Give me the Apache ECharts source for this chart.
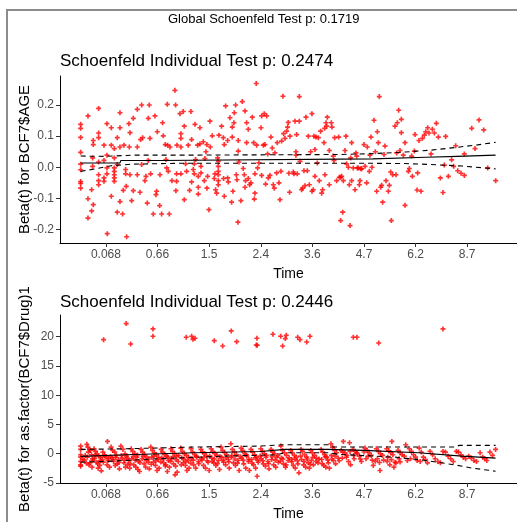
<!DOCTYPE html>
<html>
<head>
<meta charset="utf-8">
<script src="https://cdn.jsdelivr.net/npm/echarts@6/dist/echarts.min.js"></script>
<style>
html, body { margin: 0; padding: 0; background: #fff; }
#chart { width: 517px; height: 522px; }
</style>
</head>
<body>
<div id="chart"></div>
<script>
// x values are positions on the transformed time scale: tick k sits at k
var timeTicks = [1, 2, 3, 4, 5, 6, 7, 8];
var timeLabels = ['0.068', '0.66', '1.5', '2.4', '3.6', '4.7', '6.2', '8.7'];
var ageTicks = [-0.2, -0.1, 0, 0.1, 0.2];
var drugTicks = [-5, 0, 5, 10, 15, 20];

// scaled Schoenfeld residuals, AGE
var agePoints = [
  [0.51,0.138],[0.51,0.125],[0.51,0.096],[0.51,0.048],[0.51,0.010],[0.51,-0.008],[0.51,-0.046],[0.51,-0.052],[0.51,-0.067],
  [0.652,0.165],[0.652,-0.101],[0.652,-0.163],[0.723,-0.072],[0.723,-0.140],
  [0.755,0.086],[0.755,0.073],[0.755,-0.120],[0.742,0.030],[0.742,0.003],
  [0.858,0.189],[0.858,0.110],[0.858,0.095],[0.858,0.017],[0.858,-0.024],[0.858,-0.043],[0.858,-0.056],
  [0.962,0.071],[0.962,0.022],[0.962,-0.034],[0.962,-0.045],
  [1.020,0.140],[1.020,0.039],[1.020,-0.002],[1.020,-0.021],[1.026,-0.213],
  [1.104,0.127],[1.104,0.071],[1.104,-0.093],
  [1.162,0.060],[1.162,0.030],[1.162,-0.002],[1.162,-0.013],[1.162,-0.024],[1.162,-0.034],[1.162,-0.045],
  [1.220,0.095],[1.220,0.009],[1.220,-0.144],
  [1.272,0.127],[1.272,0.175],[1.272,0.065],[1.272,-0.110],
  [1.323,-0.150],[1.336,-0.074],[1.349,0.071],[1.382,-0.021],[1.382,-0.007],[1.394,-0.061],[1.401,-0.223],
  [1.446,0.140],[1.453,0.065],[1.466,-0.024],[1.466,0.111],[1.498,-0.107],[1.530,0.157],[1.530,-0.075],
  [1.608,0.186],[1.608,0.065],[1.608,-0.024],[1.659,-0.080],[1.672,0.089],[1.692,0.200],[1.692,0.009],[1.711,0.095],
  [1.756,-0.043],[1.775,-0.029],[1.801,-0.115],[1.821,0.157],[1.821,0.022],[1.840,0.200],[1.853,0.093],[1.866,-0.021],
  [1.918,-0.150],[1.950,0.165],[1.982,-0.077],[1.969,-0.088],[1.995,0.114],[2.040,-0.123],[2.047,-0.024],[2.079,-0.150],
  [2.098,0.143],[2.111,0.101],[2.150,0.073],[2.163,0.025],[2.176,-0.002],[2.189,0.202],[2.195,0.071],[2.208,-0.013],
  [2.228,-0.150],[2.241,0.065],[2.279,-0.043],
  [2.337,0.247],[2.350,0.200],[2.376,0.071],[2.369,-0.021],[2.369,-0.045],[2.356,-0.075],
  [2.434,0.172],[2.453,0.108],[2.453,0.093],[2.453,0.065],[2.453,-0.021],
  [2.498,0.179],[2.518,0.132],[2.518,-0.104],[2.544,0.011],[2.563,-0.013],[2.595,0.071],[2.621,-0.074],
  [2.647,0.179],[2.660,0.089],[2.660,-0.047],[2.692,-0.007],[2.712,0.011],[2.712,-0.021],[2.725,0.138],[2.737,0.025],
  [2.776,0.071],[2.789,-0.029],[2.789,-0.064],[2.789,-0.086],[2.821,0.075],[2.821,0.127],[2.841,0.003],[2.841,-0.018],
  [2.886,0.082],[2.906,-0.043],[2.918,0.028],[2.938,0.050],[2.957,0.073],[2.957,-0.067],[2.970,-0.029],[2.996,-0.136],
  [3.015,0.148],[3.022,0.065],[3.060,0.101],[3.099,-0.036],[3.112,-0.021],[3.125,-0.072],[3.145,-0.083],[3.164,0.030],
  [3.177,0.019],[3.177,0.003],[3.177,-0.013],[3.177,-0.024],[3.177,-0.043],[3.177,-0.056],[3.190,0.103],
  [3.241,0.132],[3.274,0.095],[3.293,0.073],[3.293,-0.093],[3.280,-0.036],[3.319,0.197],[3.358,0.086],[3.358,-0.034],
  [3.371,-0.047],[3.403,0.159],[3.448,0.129],[3.448,0.097],[3.461,-0.077],[3.480,0.143],[3.487,0.175],[3.513,0.200],
  [3.526,-0.024],[3.539,-0.040],[3.564,0.052],[3.564,0.086],[3.577,0.017],[3.435,-0.112],[3.558,-0.176],[3.616,-0.107],
  [3.642,0.211],[3.661,-0.004],[3.681,-0.024],[3.694,0.181],[3.694,-0.064],[3.706,-0.043],[3.726,0.079],[3.726,0.143],
  [3.758,0.122],[3.758,-0.036],[3.784,-0.056],[3.810,-0.050],[3.836,0.161],[3.862,0.079],[3.875,-0.102],[3.887,-0.083],
  [3.887,-0.021],[3.913,0.269],[3.920,0.071],[3.939,-0.002],[3.965,0.014],[4.004,0.127],[4.017,0.165],[4.017,-0.026],
  [4.049,0.071],[4.068,0.172],[4.081,0.073],[4.094,-0.054],[4.114,0.165],[4.133,0.043],[4.146,-0.034],[4.178,-0.026],
  [4.197,0.097],[4.223,0.062],[4.243,-0.056],[4.262,-0.067],[4.275,0.046],[4.307,-0.018],[4.320,0.079],[4.353,-0.050],
  [4.372,-0.104],[4.391,-0.013],[4.404,0.084],[4.430,0.228],[4.443,0.108],[4.469,0.093],[4.501,0.116],[4.520,0.129],
  [4.533,0.144],[4.546,-0.019],[4.559,-0.080],[4.566,0.100],
  [4.663,0.148],[4.695,0.105],[4.747,0.148],[4.747,0.227],[4.631,-0.015],[4.644,-0.021],[4.708,-0.021],[4.682,0.050],
  [4.682,0.039],[4.760,0.019],[4.792,-0.072],[4.811,-0.067],[4.837,-0.011],[4.857,-0.059],[4.876,0.161],[4.902,-0.011],
  [4.921,0.100],[4.941,-0.056],[4.967,0.050],[4.992,0.172],[4.992,-0.077],[5.018,-0.072],[5.031,0.100],[5.050,0.057],
  [5.050,-0.029],[5.070,0.097],[5.096,0.014],[5.115,0.095],[5.134,-0.043],[5.160,0.116],[5.180,-0.083],[5.199,-0.072],
  [5.225,0.079],[5.238,0.125],[5.244,-0.024],[5.264,0.143],[5.277,0.132],[5.290,0.161],[5.328,0.054],[5.328,-0.056],
  [5.367,0.143],[5.380,0.129],[5.406,0.036],[5.419,0.022],[5.432,0.095],[5.470,-0.043],[5.509,0.097],[5.522,-0.032],
  [5.548,-0.032],[5.548,-0.171],[5.567,-0.029],[5.587,-0.144],[5.600,-0.043],[5.632,0.054],[5.651,0.100],[5.664,0.011],
  [5.697,0.000],[5.716,-0.056],[5.729,-0.187],[5.742,0.030],[5.761,0.079],[5.761,-0.043],[5.793,-0.002],[5.826,-0.072],
  [5.845,0.046],[5.858,0.036],[5.871,-0.002],[5.890,-0.002],[5.910,-0.056],[5.923,-0.043],[5.936,-0.005],[5.955,-0.005],
  [6.000,0.073],[6.020,0.003],[6.052,-0.050],[6.065,0.065],[6.104,-0.013],[6.116,0.039],[6.136,0.097],[6.155,0.000],
  [6.194,0.151],[6.220,0.050],[6.246,-0.077],[6.259,0.114],[6.278,0.079],[6.297,0.227],[6.323,-0.064],[6.342,-0.058],
  [6.362,-0.112],[6.388,0.041],[6.407,0.068],[6.427,-0.043],[6.472,-0.077],[6.491,-0.058],[6.517,-0.015],[6.530,-0.171],
  [6.556,-0.024],[6.601,0.132],[6.620,-0.024],[6.633,0.046],[6.646,0.143],[6.672,0.183],[6.698,0.054],[6.724,0.154],
  [6.724,0.111],[6.762,0.039],
  [6.795,0.079],[6.795,-0.122],[6.860,-0.013],[6.879,-0.004],[6.937,-0.029],[6.924,0.036],[6.976,0.052],[6.989,0.105],
  [7.028,-0.073],[7.040,-0.018],[7.066,0.086],[7.105,-0.077],[7.131,0.093],[7.170,0.103],[7.196,0.114],[7.234,0.127],
  [7.260,0.110],[7.299,0.043],[7.325,0.122],[7.364,0.110],[7.402,0.141],[7.441,0.097],[7.480,-0.034],[7.531,-0.081],
  [7.557,0.007],[7.583,0.099],[7.635,-0.029],[7.699,0.024],[7.738,0.003],[7.777,0.069],[7.816,-0.011],[7.880,-0.019],
  [7.945,0.043],[7.945,-0.026],[8.087,0.125],[8.152,0.060],[8.229,0.152],[8.320,0.120],[8.397,-0.002],[8.552,-0.043]
];
var ageFit = [[0.51,0.014],[1.27,0.014],[1.29,0.022],[2.05,0.022],[2.07,0.027],[6.17,0.027],[6.19,0.031],[7.2,0.032],[7.22,0.035],[7.8,0.035],[7.82,0.039],[8.55,0.039]];
var ageUpper = [[0.51,0.036],[1.0,0.035],[1.5,0.039],[2.5,0.039],[4.0,0.040],[5.5,0.041],[6.2,0.044],[6.8,0.049],[7.3,0.055],[7.8,0.064],[8.2,0.072],[8.55,0.080]];
var ageLower = [[0.51,-0.013],[0.8,-0.005],[1.1,0.005],[1.5,0.010],[2.5,0.013],[6.0,0.013],[6.8,0.012],[7.3,0.009],[7.9,0.004],[8.55,-0.005]];

// scaled Schoenfeld residuals, Drug
var drugPoints = [
  [0.955,19.49],[1.393,22.23],[1.479,18.75],[1.911,21.32],[1.911,20.07],[2.556,19.9],[2.661,20.07],[2.686,19.55],
  [2.725,19.73],[3.099,19.31],[3.262,18.4],[3.428,20.98],[3.533,19.15],[3.926,19.73],[3.913,18.58],[3.932,18.53],
  [4.236,20.41],[4.386,20.07],[4.424,18.4],[4.475,19.67],[4.494,20.24],[4.715,19.9],[4.760,19.49],[4.890,19.09],
  [4.953,20.07],[5.793,19.9],[5.864,19.9],[6.285,18.92],[7.531,21.32],
  [0.51,1.31],[0.51,0.74],[0.51,-0.18],[0.51,-0.58],[0.51,-1.32],[0.51,-1.89],[0.51,-2.12],
  [0.63,1.6],[0.65,1.14],[0.68,0.74],[0.7,0.57],[0.66,0.28],[0.72,-0.18],[0.64,-0.58],[0.74,-0.86],[0.69,-1.55],[0.67,-1.89],[0.73,-2.29],
  [0.77,0.85],[0.8,0.39],[0.83,-0.01],[0.86,-0.41],[0.78,-0.75],[0.89,-1.15],[0.82,-1.44],[0.88,-2.0],[0.85,-2.46],[0.91,-2.92],
  [1.03,2.11],[0.94,0.28],[0.97,-0.18],[1.0,-0.58],[1.05,-0.86],[0.95,-1.44],[1.02,-1.89],[1.07,-2.29],
  [1.1,1.14],[1.13,0.57],[1.17,0.28],[1.2,-0.29],[1.12,-0.69],[1.24,-0.98],[1.15,-1.32],[1.22,-1.72],[1.18,-2.0],[1.26,-2.58],
  [1.29,1.31],[1.33,0.74],[1.37,-0.01],[1.4,-0.41],[1.31,-0.75],[1.44,-1.15],[1.35,-1.55],[1.42,-1.89],[1.38,-2.29],[1.46,-2.46],
  [1.49,0.85],[1.52,0.39],[1.56,-0.01],[1.6,-0.58],[1.5,-0.86],[1.63,-1.32],[1.54,-1.89],[1.58,-2.29],[1.62,-2.69],[1.65,-3.04],
  [1.68,0.74],[1.71,0.28],[1.75,-0.18],[1.79,-0.58],[1.7,-0.86],[1.82,-1.44],[1.74,-1.72],[1.77,-2.29],[1.84,-2.58],
  [1.87,1.14],[1.9,0.57],[1.94,0.17],[1.98,-0.18],[1.89,-0.58],[2.01,-0.98],[1.92,-1.44],[1.96,-2.0],[2.03,-2.46],[1.99,-2.87],
  [2.07,0.74],[2.1,0.28],[2.14,-0.18],[2.18,-0.41],[2.08,-0.75],[2.21,-1.15],[2.12,-1.55],[2.16,-1.89],[2.23,-2.29],[2.19,-3.04],
  [2.26,0.85],[2.29,0.39],[2.33,-0.01],[2.37,-0.41],[2.27,-0.86],[2.4,-1.32],[2.31,-1.72],[2.35,-2.12],[2.38,-3.15],[2.34,-3.61],
  [2.45,0.97],[2.48,0.39],[2.52,-0.01],[2.56,-0.29],[2.47,-0.75],[2.59,-1.15],[2.5,-1.55],[2.54,-2.0],[2.61,-2.46],[2.57,-2.87],
  [2.65,0.85],[2.68,0.28],[2.72,-0.18],[2.76,-0.58],[2.66,-0.86],[2.79,-1.32],[2.7,-1.89],[2.74,-2.46],
  [2.84,0.74],[2.87,0.28],[2.91,-0.01],[2.95,-0.41],[2.85,-0.86],[2.98,-1.44],[2.89,-2.0],[2.93,-2.46],[3.0,-2.87],
  [3.04,0.85],[3.07,0.39],[3.11,-0.01],[3.15,-0.29],[3.05,-0.75],[3.18,-1.15],[3.09,-1.55],[3.13,-2.0],[3.2,-2.69],
  [3.23,1.14],[3.26,0.57],[3.3,0.17],[3.34,-0.18],[3.24,-0.58],[3.37,-0.98],[3.28,-1.44],[3.32,-1.89],[3.39,-2.46],
  [3.42,1.71],[3.45,0.74],[3.49,0.28],[3.53,-0.18],[3.43,-0.58],[3.56,-1.15],[3.47,-1.55],[3.51,-2.0],[3.58,-2.87],
  [3.62,0.97],[3.65,0.57],[3.69,-0.01],[3.73,-0.41],[3.63,-0.75],[3.76,-1.32],[3.67,-1.72],[3.71,-2.46],[3.78,-2.87],
  [3.81,0.74],[3.84,0.28],[3.88,-0.18],[3.92,-0.58],[3.82,-0.98],[3.95,-1.44],[3.86,-1.89],[3.9,-2.46],[3.93,-3.84],
  [4.0,0.85],[4.03,0.39],[4.07,-0.01],[4.11,-0.29],[4.01,-0.86],[4.14,-1.32],[4.05,-1.72],[4.09,-2.12],[4.16,-2.58],
  [4.2,0.74],[4.23,0.28],[4.27,-0.01],[4.31,-0.58],[4.21,-0.98],[4.34,-1.44],[4.25,-1.89],[4.29,-2.29],
  [4.39,1.31],[4.42,0.57],[4.46,0.17],[4.5,-0.29],[4.4,-0.75],[4.53,-1.15],[4.44,-1.72],[4.48,-2.29],
  [4.58,0.57],[4.61,0.17],[4.65,-0.29],[4.69,-0.58],[4.6,-0.98],[4.72,-1.72],[4.63,-2.0],[4.67,-2.46],[4.74,-3.27],
  [4.78,0.74],[4.81,0.39],[4.85,-0.18],[4.89,-0.58],[4.79,-0.98],[4.92,-1.55],[4.83,-1.89],[4.87,-2.29],[4.94,-2.46],
  [4.97,0.57],[5.0,0.17],[5.04,-0.29],[5.08,-0.75],[4.98,-1.15],[5.11,-1.55],[5.02,-1.89],
  [5.17,0.74],[5.2,0.28],[5.24,-0.18],[5.28,-0.58],[5.18,-0.98],[5.31,-1.55],[5.22,-2.0],[5.26,-2.29],[5.33,-2.46],
  [5.36,1.71],[5.39,1.14],[5.43,0.57],[5.47,0.17],[5.37,-0.29],[5.5,-0.75],[5.41,-1.15],[5.45,-1.72],
  [5.6,2.11],[5.72,1.88],[5.56,0.57],[5.63,0.17],[5.67,-0.29],[5.58,-0.75],[5.7,-1.32],[5.74,-1.89],
  [5.79,0.74],[5.83,0.39],[5.87,-0.01],[5.91,-0.41],[5.81,-0.86],[5.95,-1.32],
  [6.02,0.97],[6.06,0.57],[6.1,0.17],[6.14,-0.29],[6.04,-0.86],[6.18,-2.0],
  [6.24,0.85],[6.28,0.39],[6.32,-0.01],[6.36,-0.29],[6.26,-0.86],[6.31,-2.87],
  [6.54,2.11],[6.44,0.85],[6.48,0.51],[6.52,0.17],[6.56,-0.18],[6.46,-0.58],[6.6,-1.44],[6.5,-1.89],[6.58,-2.29],
  [6.81,1.54],[6.66,0.57],[6.7,0.17],[6.74,-0.18],[6.78,-0.41],[6.68,-0.86],[6.84,-1.15],
  [6.88,0.85],[6.92,0.39],[6.96,-0.18],[7.0,-0.58],[6.9,-0.86],[7.03,-1.15],
  [7.07,0.97],[7.11,0.28],[7.15,-0.58],[7.19,-0.98],[7.09,-1.32],[7.23,-1.55],
  [7.28,0.39],[7.33,-0.18],[7.38,-0.86],[7.43,-1.32],[7.48,-1.55],
  [7.53,0.39],[7.58,0.28],[7.63,-0.41],[7.68,-0.86],[7.73,-1.32],
  [7.79,0.39],[7.83,0.28],[7.88,-0.18],[7.92,-0.58],[7.97,-0.86],
  [8.03,-0.41],[8.08,-0.75],[8.13,-1.15],[8.18,-1.32],
  [8.25,0.17],[8.3,-0.58],[8.34,-0.86],[8.38,-1.15],
  [8.44,0.28],[8.49,-0.29],[8.55,0.74],
  [0.55,-0.9],[0.58,-1.1],[0.6,-0.3],[0.62,-1.6],[0.75,-1.1],[0.79,-0.2],[0.84,-1.7],[0.9,-0.6],[0.93,-1.0],[0.98,-0.4],
  [1.04,-1.2],[1.09,-0.5],[1.14,-1.0],[1.19,-0.6],[1.25,-1.5],[1.3,-0.3],[1.36,-1.1],[1.41,-0.7],[1.47,-1.7],[1.53,-0.5],
  [1.57,-1.1],[1.61,-0.2],[1.66,-1.5],[1.72,-0.4],[1.78,-1.1],[1.83,-0.9],[1.88,-1.8],[1.93,-0.4],[1.97,-1.2],[2.02,-0.6],
  [2.06,-1.4],[2.11,-0.9],[2.15,-2.1],[2.2,-0.6],[2.25,-1.3],[2.3,-0.5],[2.36,-1.0],[2.41,-0.3],[2.46,-1.9],[2.51,-0.9],
  [2.55,-1.3],[2.6,-0.6],[2.64,-1.6],[2.69,-1.1],[2.75,-0.4],[2.8,-1.7],[2.86,-1.1],[2.9,-0.6],[2.96,-1.2],[3.01,-0.4],
  [3.06,-1.3],[3.1,-0.9],[3.16,-1.7],[3.21,-0.5],[3.27,-1.1],[3.33,-0.7],[3.38,-1.4],[3.44,-0.3],[3.5,-0.9],[3.55,-1.6],
  [3.6,-0.5],[3.66,-1.1],[3.72,-0.2],[3.77,-1.0],[3.83,-1.6],[3.89,-0.7],[3.94,-1.1],[3.99,-0.4],[4.04,-1.2],[4.1,-0.6],
  [4.15,-1.7],[4.22,-0.5],[4.28,-1.1],[4.33,-0.3],[4.38,-1.3],[4.43,-0.9],[4.49,-1.9],[4.55,-0.7],[4.6,-1.4],[4.66,-0.9],
  [4.71,-1.2],[4.77,-0.4],[4.84,-1.3],[4.9,-0.9],[4.96,-1.8],[5.01,-0.6],[5.07,-1.3],[5.13,-0.9],[5.19,-1.7],[5.25,-0.5],
  [5.3,-1.1],[5.38,-0.9],[5.44,-0.4],[5.52,-1.2],[5.59,0.3],[5.66,-0.6],[5.73,0.4],[5.8,-0.3],[5.86,0.2],[5.93,-0.9],
  [6.0,0.3],[6.08,-0.4],[6.16,-1.1],[6.22,-1.3],[6.3,-1.5],[6.38,-1.1],[6.45,-1.3],[6.53,-1.0],[6.62,-1.6],[6.7,-1.4]
];
var drugFit = [[0.51,-0.45],[1.4,-0.18],[2.7,0.17],[4.0,0.39],[4.47,0.74],[5.3,0.74],[6.0,0.57],[7.05,0.17],[7.9,-0.41],[8.55,-0.75]];
var drugUpper = [[0.51,0.74],[1.4,0.85],[2.7,1.14],[4.0,1.31],[4.47,1.54],[5.3,1.54],[5.4,1.14],[7.75,1.14],[7.85,1.43],[8.55,1.43]];
var drugLower = [[0.51,-1.44],[1.0,-1.32],[2.0,-0.86],[3.3,-0.41],[4.3,-0.18],[4.47,0.17],[5.3,0.17],[5.5,-0.1],[6.6,-0.58],[7.2,-1.15],[7.75,-1.89],[8.1,-2.46],[8.55,-2.98]];

var FONT = 'Liberation Sans, Arial, sans-serif';
var plusSymbol = 'path://M2,0H4V2H6V4H4V6H2V4H0V2H2Z';

function xAxisFor(grid) {
    return {
        gridIndex: grid,
        type: 'value',
        min: 0.11,
        max: 8.965,
        name: 'Time',
        nameLocation: 'middle',
        nameGap: 24,
        nameTextStyle: { color: '#000', fontSize: 14, fontFamily: FONT },
        axisLine: { show: true, onZero: false, lineStyle: { color: '#000', width: 1 } },
        axisTick: { show: true, customValues: timeTicks, length: 4, lineStyle: { color: '#333' } },
        axisLabel: {
            customValues: timeTicks,
            color: '#4d4d4d', fontSize: 12, fontFamily: FONT, margin: 6,
            formatter: function (v) { return timeLabels[Math.round(v) - 1]; }
        },
        splitLine: { show: false }
    };
}

function yAxisFor(grid, min, max, ticks, name, fmt) {
    return {
        gridIndex: grid,
        type: 'value',
        min: min,
        max: max,
        name: name,
        nameLocation: 'middle',
        nameGap: 28,
        nameMoveOverlap: false,
        nameTextStyle: { color: '#000', fontSize: 15, fontFamily: FONT },
        axisLine: { show: true, onZero: false, lineStyle: { color: '#000', width: 1 } },
        axisTick: { show: true, customValues: ticks, length: 4, lineStyle: { color: '#333' } },
        axisLabel: { customValues: ticks, color: '#4d4d4d', fontSize: 12, fontFamily: FONT, margin: 6, formatter: fmt },
        splitLine: { show: false }
    };
}

function scatter(idx, data) {
    return {
        type: 'scatter', xAxisIndex: idx, yAxisIndex: idx, data: data,
        symbol: plusSymbol, symbolSize: 5, silent: true,
        itemStyle: { color: '#ff0000' }
    };
}

function line(idx, data, dashed) {
    return {
        type: 'line', xAxisIndex: idx, yAxisIndex: idx, data: data,
        showSymbol: false, silent: true, z: 3,
        lineStyle: { color: '#000', width: 1.1, type: dashed ? [5, 4] : 'solid' }
    };
}

var chart = echarts.init(document.getElementById('chart'));
chart.setOption({
    animation: false,
    backgroundColor: '#fff',
    graphic: [{
        type: 'rect', silent: true,
        shape: { x: 7, y: 10, width: 540, height: 540 },
        style: { fill: 'none', stroke: '#8c8c8c', lineWidth: 2 }
    }],
    title: [
        { text: 'Global Schoenfeld Test p: 0.1719', left: 168, top: 13, padding: 0,
          textStyle: { fontSize: 13, fontWeight: 'normal', color: '#000', fontFamily: FONT } },
        { text: 'Schoenfeld Individual Test p: 0.2474', left: 60, top: 53, padding: 0,
          textStyle: { fontSize: 17, fontWeight: 'normal', color: '#000', fontFamily: FONT } },
        { text: 'Schoenfeld Individual Test p: 0.2446', left: 60, top: 294, padding: 0,
          textStyle: { fontSize: 17, fontWeight: 'normal', color: '#000', fontFamily: FONT } }
    ],
    grid: [
        { left: 60, top: 76, width: 457, height: 167 },
        { left: 60, top: 315, width: 457, height: 168 }
    ],
    xAxis: [xAxisFor(0), xAxisFor(1)],
    yAxis: [
        yAxisFor(0, -0.243, 0.293, ageTicks, 'Beta(t) for BCF7$AGE', function (v) { return v.toFixed(1); }),
        yAxisFor(1, -5, 23.7, drugTicks, 'Beta(t) for as.factor(BCF7$Drug)1', function (v) { return String(v); })
    ],
    series: [
        scatter(0, agePoints),
        line(0, ageFit, false),
        line(0, ageUpper, true),
        line(0, ageLower, true),
        scatter(1, drugPoints),
        line(1, drugFit, false),
        line(1, drugUpper, true),
        line(1, drugLower, true)
    ]
});
</script>
</body>
</html>
